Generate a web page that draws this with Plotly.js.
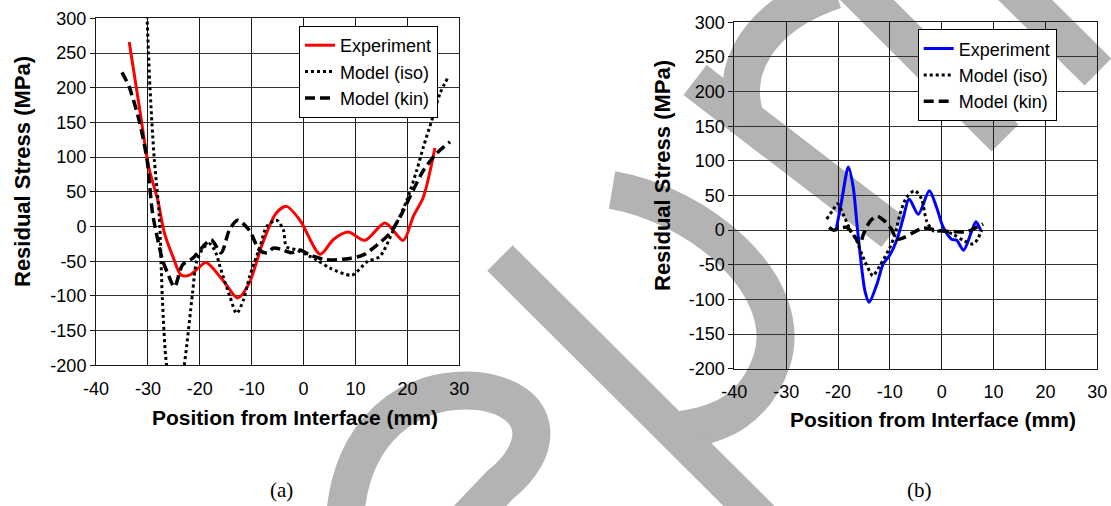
<!DOCTYPE html>
<html>
<head>
<meta charset="utf-8">
<script src="https://cdn.plot.ly/plotly-3.0.1.min.js"></script>
<style>html,body{margin:0;padding:0;background:#fff;}#chart{width:1111px;height:506px;}</style>
</head>
<body>
<div id="chart"></div>
<script>
// ---------- data: panel (a) ----------
const expA_x = [-33.6, -31.5, -30.4, -29.7, -28.1, -26.8, -25.2, -23.6, -22.0, -20.3, -18.8, -15.6, -12.7, -10.5, -7.9, -5.3, -3.3, -0.7, 3.2, 5.7, 8.6, 11.8, 15.7, 19.2, 21.1, 23.1, 25.3];
const expA_y = [266, 165, 110, 81, 38, -10, -43, -70, -70, -60, -52, -77, -103, -82, -24, 19, 29, 9, -40, -19, -8, -20, 5, -20, 14, 43, 113];

const isoA_x = [-30.3, -29.6, -28.8, -27.8, -27.2, -26.4, -24.7, -23.0, -21.4, -20.6, -19.2, -18.0, -16.8, -16.1, -14.2, -12.9, -11.6, -10.4, -8.4, -7.1, -5.2, -3.9, -3.3, -1.3, 2.5, 5.1, 9.3, 12.2, 14.7, 17.3, 19.9, 21.8, 23.1, 24.7, 26.3, 27.9];
const isoA_y = [330, 200, 100, 14, -106, -200, -270, -200, -96, -50, -30, -25, -40, -58, -101, -125, -106, -72, -29, 0, 9, -5, -29, -34, -48, -60, -70, -51, -43, -5, 38, 81, 115, 153, 192, 216];

const kinA_x = [-35.0, -33.6, -31.7, -30.2, -29.7, -29.1, -28.1, -27.2, -26.2, -24.9, -23.3, -21.4, -19.4, -17.8, -15.9, -14.3, -12.7, -10.5, -8.5, -7.0, -5.8, -3.9, -2.3, -0.7, 1.2, 4.4, 8.9, 11.5, 14.1, 16.6, 18.6, 20.5, 23.1, 25.6, 28.2];
const kinA_y = [222, 201, 153, 98, 62, 19, -19, -48, -67, -87, -55, -46, -29, -19, -38, -5, 9, -5, -34, -38, -31, -34, -38, -34, -41, -48, -46, -41, -27, -10, 14, 43, 81, 105, 122];

// ---------- data: panel (b) ----------
const expB_x = [-20.4, -19.3, -18.0, -17.05, -16.4, -15.8, -14.8, -14.0, -12.5, -11.3, -10.0, -8.7, -7.4, -6.3, -4.5, -2.4, -1.0, 0.3, 1.9, 2.9, 4.2, 5.8, 6.6, 7.5];
const expB_y = [-1, 42, 91, 61, 13, -30, -88, -104, -78, -49, -36, -15, 18, 45, 23, 57, 33, 4, -13, -14.5, -29, -1, 12, 0];

const isoB_x = [-22.2, -20.9, -20.1, -19.0, -17.7, -16.4, -15.4, -13.8, -13.3, -11.9, -10.0, -9.0, -8.05, -6.8, -5.2, -3.9, -2.9, -1.6, 0.3, 2.2, 4.2, 6.1, 7.05, 7.7];
const isoB_y = [16, 30, 38, 23, 1, -15, -35, -61, -66, -51, -25, -6, 23, 47, 57, 45, 13, -1, -1, -6, -15, -20, -11, 1];

const kinB_x = [-21.7, -20.9, -19.6, -18.3, -17.05, -15.8, -15.1, -13.8, -12.5, -11.0, -9.65, -8.7, -7.4, -5.5, -3.55, -1.9, -0.3, 2.2, 4.8, 6.4, 8.0];
const kinB_y = [4, 0, 3, 4, -6, -20, -6, 13, 20, 13, 1, -13, -11, -3.5, 3, 1.4, -1, -2, -2.5, 3, 8.7];

const names = ["Experiment", "Model (iso)", "Model (kin)"];
const xTicks = [-40, -30, -20, -10, 0, 10, 20, 30];
const yTicks = [-200, -150, -100, -50, 0, 50, 100, 150, 200, 250, 300];

// ---------- helpers ----------
const W = 1111, H = 506;
const FONT = "Arial, 'Liberation Sans', sans-serif";
const px = (x) => x / W;
const py = (y) => 1 - y / H;
const pt = (p) => px(p[0]).toFixed(4) + ',' + py(p[1]).toFixed(4);
// path: first point M, then groups: ['L', p] or ['C', p1, p2, p3]
function path(start, segs) {
  let s = 'M' + pt(start);
  segs.forEach(g => { s += ' ' + g[0] + g.slice(1).map(pt).join(' '); });
  return s;
}

const lineExpA = {color: '#ff0000', width: 3, shape: 'spline', smoothing: 0.8};
const lineExpB = {color: '#0000ff', width: 3, shape: 'spline', smoothing: 0.8};
const lineIso = {color: '#000000', width: 3, dash: '3px,3px', shape: 'spline', smoothing: 0.8};
const lineKin = {color: '#000000', width: 3.5, dash: '10px,5px', shape: 'spline', smoothing: 0.8};

const traces = [
  {x: expA_x, y: expA_y, name: names[0], mode: 'lines', line: lineExpA, xaxis: 'x', yaxis: 'y', legend: 'legend'},
  {x: isoA_x, y: isoA_y, name: names[1], mode: 'lines', line: lineIso, xaxis: 'x', yaxis: 'y', legend: 'legend'},
  {x: kinA_x, y: kinA_y, name: names[2], mode: 'lines', line: lineKin, xaxis: 'x', yaxis: 'y', legend: 'legend'},
  {x: expB_x, y: expB_y, name: names[0], mode: 'lines', line: lineExpB, xaxis: 'x2', yaxis: 'y2', legend: 'legend2'},
  {x: isoB_x, y: isoB_y, name: names[1], mode: 'lines', line: lineIso, xaxis: 'x2', yaxis: 'y2', legend: 'legend2'},
  {x: kinB_x, y: kinB_y, name: names[2], mode: 'lines', line: lineKin, xaxis: 'x2', yaxis: 'y2', legend: 'legend2'}
];

function xa(d0, d1, anchor) {
  return {domain: [px(d0), px(d1)], range: [-40, 30], tickvals: xTicks, ticktext: xTicks.map(String),
    showgrid: true, gridcolor: '#1a1a1a', gridwidth: 1, zeroline: false, showline: true, mirror: true,
    linecolor: '#1a1a1a', linewidth: 1, ticks: '', tickfont: {family: FONT, size: 18, color: '#000'},
    anchor: anchor, fixedrange: true, ticklabelstandoff: 7};
}
function ya(top, bot, anchor) {
  return {domain: [py(bot), py(top)], range: [-200, 300], tickvals: yTicks, ticktext: yTicks.map(String),
    showgrid: true, gridcolor: '#333', gridwidth: 1, zeroline: false, showline: true, mirror: true,
    linecolor: '#1a1a1a', linewidth: 1, ticks: 'outside', ticklen: 5, tickcolor: '#1a1a1a',
    tickfont: {family: FONT, size: 18, color: '#000'}, anchor: anchor, fixedrange: true};
}

// ---------- background watermark strokes (pixel coordinates of the page) ----------
const gray = '#b3b3b3';
const wm = (start, segs, w) => ({type: 'path', xref: 'paper', yref: 'paper', layer: 'below', path: path(start, segs),
  line: {color: gray, width: w || 38}, fillcolor: 'rgba(0,0,0,0)'});

const shapes = [
  wm([842, -25], [['L', [1005, 138]]]),
  wm([1000, -25], [['L', [1098, 72]]]),
  wm([695, 80], [['L', [893, 232]]]),
  wm([835, -10], [['C', [760, 15], [725, 70], [748, 125]]]),
  wm([612, 190], [['C', [700, 205], [795, 285], [772, 360]], ['C', [755, 410], [720, 425], [680, 430]]]),
  wm([500, 258], [['L', [765, 522]]], 36),
  wm([345, 520], [['C', [350, 430], [410, 385], [478, 391]], ['C', [545, 400], [545, 450], [500, 485]], ['L', [462, 525]]])
];

const ann = (text, x, y, size, angle, family, bold) => ({text: bold ? '<b>' + text + '</b>' : text, x: px(x), y: py(y),
  xref: 'paper', yref: 'paper', xanchor: 'center', yanchor: 'middle', showarrow: false, textangle: angle || 0,
  font: {family: family || FONT, size: size, color: '#000'}});

const layout = {
  width: W, height: H, margin: {l: 0, r: 0, t: 0, b: 0},
  paper_bgcolor: '#fff', plot_bgcolor: 'rgba(0,0,0,0)',
  xaxis: xa(96, 459.3, 'y'), yaxis: ya(18.3, 365.3, 'x'),
  xaxis2: xa(734.3, 1097.3, 'y2'), yaxis2: ya(22.3, 368.7, 'x2'),
  legend: {x: px(299), y: py(26), xanchor: 'left', yanchor: 'top', bgcolor: '#fff', bordercolor: '#000', borderwidth: 1,
    font: {family: FONT, size: 18, color: '#000'}, tracegroupgap: 0},
  legend2: {x: px(917.7), y: py(29.3), xanchor: 'left', yanchor: 'top', bgcolor: '#fff', bordercolor: '#000', borderwidth: 1,
    font: {family: FONT, size: 18, color: '#000'}, tracegroupgap: 0},
  showlegend: true,
  shapes: shapes,
  annotations: [
    ann('Position from Interface (mm)', 295, 417, 21, 0, FONT, true),
    ann('Position from Interface (mm)', 933, 419, 21, 0, FONT, true),
    ann('Residual Stress (MPa)', 22, 172, 22, -90, FONT, true),
    ann('Residual Stress (MPa)', 662, 176, 22, -90, FONT, true),
    ann('(a)', 281, 490, 21, 0, "'Liberation Serif', 'Times New Roman', serif", false),
    ann('(b)', 919, 490, 21, 0, "'Liberation Serif', 'Times New Roman', serif", false)
  ]
};

Plotly.newPlot('chart', traces, layout, {displayModeBar: false, staticPlot: true});
</script>
</body>
</html>
